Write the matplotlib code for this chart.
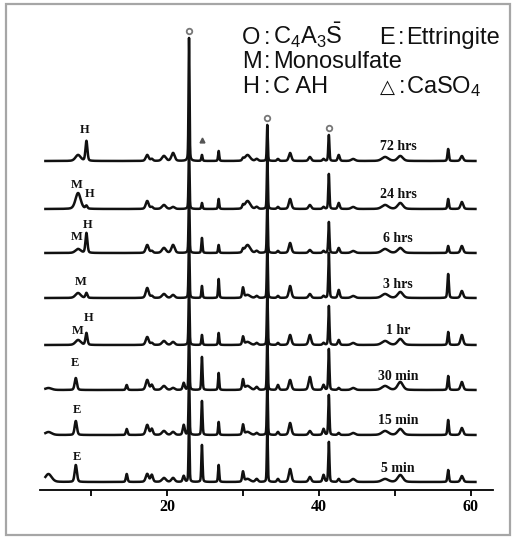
import numpy as np
import matplotlib
matplotlib.use("Agg")
import matplotlib.pyplot as plt
from matplotlib.patches import Rectangle

W, H = 513, 537

# Reflection positions (2-theta, deg) and peak widths (FWHM, deg)
peak_pos = [4.4, 8.0, 8.3, 9.4, 14.7, 17.4, 18.0, 19.6, 20.8, 22.2, 22.9, 24.6, 26.8,
            30.0, 30.6, 31.8, 33.2, 34.6, 36.2, 38.8, 40.6, 41.3, 42.6, 44.5, 48.7,
            50.7, 57.0, 58.8]
peak_fwhm = [1.0, 0.35, 0.8, 0.3, 0.25, 0.45, 0.35, 0.6, 0.5, 0.3, 0.15, 0.18, 0.18,
             0.25, 0.8, 0.4, 0.15, 0.3, 0.4, 0.4, 0.3, 0.18, 0.3, 0.6, 1.0,
             0.8, 0.22, 0.4]

# Peak intensities for each hydration time (same order as peak_pos)
i_5min = [8, 17, 0, 0, 8, 8, 7, 4, 4, 6, 62, 37, 17, 10, 3, 3, 55, 3, 13, 5, 7, 40, 3, 3, 3, 7, 12, 6]
i_15min = [3, 14, 0, 0, 6, 10, 6, 4, 3, 10, 62, 34, 13, 10, 3, 2, 55, 3, 12, 4, 6, 40, 2, 2, 4, 6, 15, 7]
i_30min = [2, 12, 0, 0, 5, 10, 5, 4, 2, 7, 62, 33, 17, 10, 4, 3, 55, 5, 10, 13, 5, 41, 2, 2, 4, 8, 14, 8]
i_1hr = [0, 0, 5, 12, 0, 8, 2, 4, 3, 0, 62, 10, 12, 8, 3, 2, 55, 2, 10, 10, 2, 39, 5, 2, 4, 6, 13, 10]
i_3hrs = [0, 0, 5, 5, 0, 10, 2, 4, 3, 0, 62, 12, 19, 10, 3, 2, 55, 2, 12, 4, 2, 45, 8, 2, 4, 6, 24, 7]
i_6hrs = [0, 0, 4, 20, 0, 8, 2, 5, 8, 0, 62, 15, 8, 3, 8, 2, 55, 2, 10, 3, 2, 31, 5, 2, 4, 5, 7, 7]
i_24hrs = [0, 0, 16, 3, 0, 8, 2, 4, 2, 0, 62, 6, 10, 3, 8, 2, 55, 2, 10, 4, 2, 35, 6, 2, 4, 6, 10, 7]
i_72hrs = [0, 0, 6, 20, 0, 6, 2, 5, 8, 0, 123, 6, 10, 2, 6, 2, 36, 2, 8, 4, 2, 26, 6, 2, 4, 5, 12, 5]

time_labels = ["5 min", "15 min", "30 min", "1 hr", "3 hrs", "6 hrs", "24 hrs", "72 hrs"]
patterns = [i_5min, i_15min, i_30min, i_1hr, i_3hrs, i_6hrs, i_24hrs, i_72hrs]
offsets = [8, 55, 100, 145, 192, 237, 281, 329]

# Phase letters: (trace index, 2-theta, height above baseline, letter)
phase_marks = [
    (0, 8.2, 25, "E"), (1, 8.1, 25, "E"), (2, 7.9, 27, "E"),
    (3, 8.3, 14, "M"), (3, 9.7, 27, "H"),
    (4, 8.7, 16, "M"),
    (5, 8.1, 16, "M"), (5, 9.6, 28, "H"),
    (6, 8.1, 24, "M"), (6, 9.8, 15, "H"),
    (7, 9.2, 31, "H"),
]

two_theta = np.arange(4.0, 60.6, 0.01)


def pattern(heights):
    y = np.zeros_like(two_theta)
    for c, w, h in zip(peak_pos, peak_fwhm, heights):
        if h == 0:
            continue
        g = np.exp(-4 * np.log(2) * ((two_theta - c) / w) ** 2)
        lz = 1.0 / (1.0 + 4 * ((two_theta - c) / w) ** 2)
        y += h * (0.7 * g + 0.3 * lz)
    return y


fig = plt.figure(figsize=(W / 100, H / 100), dpi=100)
ax = fig.add_axes([40 / W, (H - 490) / H, 453 / W, 490 / H])
ax.set_xlim(3.29, 62.9)
ax.set_ylim(0, 490)

serif = ["Liberation Serif", "DejaVu Serif"]
sans = ["Liberation Sans", "DejaVu Sans"]

for lab, inten, off in zip(time_labels, patterns, offsets):
    ax.plot(two_theta, off + pattern(inten), color="#111111", lw=1.8,
            solid_joinstyle="round")
    ax.text(50.4, off + 14, lab, ha="center", va="center", fontsize=10,
            fontweight="bold", family=serif, color="#111111")

for idx, tt, dy, letter in phase_marks:
    ax.text(tt, offsets[idx] + dy, letter, ha="center", va="center",
            fontsize=9, fontweight="bold", family=serif, color="#111111")

# C4A3S reflections flagged on the 72 h pattern
top = offsets[7] + pattern(i_72hrs)
for tt in [22.9, 33.2, 41.3]:
    yy = top[np.argmin(np.abs(two_theta - tt))] + 7
    ax.plot(tt, yy, "o", ms=4, mfc="white", mec="#777777", mew=1.3)
ax.plot(24.6, offsets[7] + 21, "^", ms=3.5, color="#555555")

for s in ["top", "left", "right"]:
    ax.spines[s].set_visible(False)
ax.spines["bottom"].set_linewidth(1.3)
ax.set_yticks([])
ax.set_xticks([10, 20, 30, 40, 50, 60])
ax.set_xticklabels(["", "20", "", "40", "", "60"])
ax.tick_params(axis="x", direction="out", length=4.5, width=1.3, pad=2,
               labelsize=11.5)
for t in ax.get_xticklabels():
    t.set_fontweight("bold")
    t.set_family(serif)

# Phase key
fs = 17
rows = [44, 68, 93]


def key(x, row, s, size=fs):
    fig.text(x / W, 1 - rows[row] / H, s, fontsize=size, family=sans,
             va="baseline", color="#111111")


key(242, 0, "O")
key(264, 0, ":")
key(273, 0, r"$\mathregular{C_4A_3\bar{S}}$")
key(379, 0, "E")
key(398, 0, ":")
key(406, 0, "Ettringite")
key(242, 1, "M")
key(264, 1, ":")
key(273, 1, "Monosulfate")
key(242, 2, "H")
key(264, 2, ":")
key(273, 2, "C AH")
key(380, 2, "\u25b3", fs - 3)
key(399, 2, ":")
key(406, 2, r"$\mathregular{CaSO_4}$")

# Outer frame
fig.patches.append(Rectangle((6 / W, 2 / H), 504 / W, 531 / H, transform=fig.transFigure,
                             fill=False, ec="#a6a6a6", lw=1.6, figure=fig))

fig.savefig("out.png", dpi=100)
